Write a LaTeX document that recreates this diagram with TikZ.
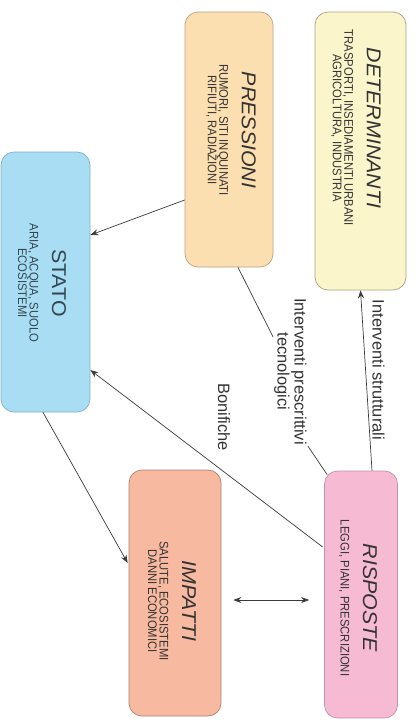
\documentclass[tikz,border=0pt]{standalone}
\usepackage{fontspec}
\setmainfont{Liberation Sans}
\setsansfont{Liberation Sans}
\newfontfamily\subfamily[FakeStretch=0.9]{Liberation Sans}
\newfontfamily\titlefamily[FakeStretch=1.07]{Liberation Sans}
\usetikzlibrary{positioning, arrows.meta, calc}

\definecolor{detfill}{HTML}{FBF5CB}
\definecolor{detdraw}{HTML}{A9A183}
\definecolor{presfill}{HTML}{FCDFB0}
\definecolor{presdraw}{HTML}{B9A283}
\definecolor{statofill}{HTML}{A9DDF4}
\definecolor{statodraw}{HTML}{7FAFC9}
\definecolor{impfill}{HTML}{F8B9A1}
\definecolor{impdraw}{HTML}{B3806E}
\definecolor{rispfill}{HTML}{F6BBD3}
\definecolor{rispdraw}{HTML}{BE93A9}
\definecolor{textgray}{HTML}{333333}
\definecolor{linegray}{HTML}{3A3A3A}

\newcommand{\titlefont}{\titlefamily\fontsize{20}{20}\selectfont}
\newcommand{\subfont}{\subfamily\fontsize{12.5}{11.5}\selectfont}
\newcommand{\lblfont}{\fontsize{16.5}{17}\selectfont}

\begin{document}
\begin{tikzpicture}[x=1pt, y=-1pt,
    box/.style={rectangle, rounded corners=13pt, line width=0.7pt, inner sep=0pt},
    boxtext/.style={rotate=-90, align=center, text=textgray, font=\subfont, inner sep=0pt},
    lbl/.style={rotate=-90, align=center, text=textgray, font=\lblfont, inner sep=1pt},
    arr/.style={-{Stealth[length=8pt, width=6pt]}, line width=0.7pt, draw=linegray},
    plain/.style={line width=0.7pt, draw=linegray}]
        \useasboundingbox (0,0) rectangle (419,723);

        % Boxes
        \node (det) [box, draw=detdraw, fill=detfill, minimum width=91pt, minimum height=278pt] at (360.5,151) {};
        \node (pres) [box, draw=presdraw, fill=presfill, minimum width=88pt, minimum height=255pt] at (229,139.5) {};
        \node (stato) [box, draw=statodraw, fill=statofill, minimum width=89pt, minimum height=260pt] at (45.5,282) {};
        \node (imp) [box, draw=impdraw, fill=impfill, minimum width=92pt, minimum height=246pt] at (175,593) {};
        \node (risp) [box, draw=rispdraw, fill=rispfill, minimum width=73pt, minimum height=247pt] at (361,594.5) {};

        % Box texts
        \node (dettext) [boxtext] at (356,128)
        {{\titlefont\itshape DETERMINANTI}\\[11pt]TRASPORTI, INSEDIAMENTI URBANI\\AGRICOLTURA, INDUSTRIA};
        \node (prestext) [boxtext] at (231,130)
        {{\titlefont\itshape PRESSIONI}\\[11pt]RUMORI, SITI INQUINATI\\RIFIUTI, RADIAZIONI};
        \node (statotext) [boxtext, text=statodraw!40!black] at (42,283)
        {{\titlefont STATO}\\[11pt]ARIA, ACQUA, SUOLO\\ECOSISTEMI};
        \node (imptext) [boxtext] at (172,601)
        {{\titlefont\itshape IMPATTI}\\[11pt]SALUTE, ECOSISTEMI\\DANNI ECONOMICI};
        \node (risptext) [boxtext] at (358,598)
        {{\titlefont\itshape RISPOSTE}\\[11pt]LEGGI, PIANI, PRESCRIZIONI};

        % Connector labels
        \node (lblstrut) [lbl] at (378.5,370) {Interventi strutturali};
        \node (lblpresc) [lbl] at (290.5,371.5) {Interventi prescrittivi\\tecnologici};
        \node (lblbonif) [lbl] at (224,417) {Bonifiche};

        % Connectors
        \draw[arr] ([xshift=11pt]risp.north) -- (det.south);
        \draw[arr] ([yshift=-60.5pt]pres.west) -- ([yshift=47pt]stato.east);
        \draw[plain] ([xshift=9pt]pres.south) -- (lblpresc);
        \draw[plain] ([xshift=3pt, yshift=-4pt]risp.north west) -- (lblpresc.north east);
        \draw[arr] ([xshift=-1.5pt, yshift=47.5pt]risp.west) -- ([yshift=-88pt]stato.east);
        \draw[arr] ([xshift=-2.5pt]stato.south) -- ([xshift=-1pt, yshift=30pt]imp.west);
        \draw[arr, {Stealth[length=8pt, width=6pt]}-{Stealth[length=8pt, width=6pt]}, shorten <=12pt, shorten >=15pt]
            ([yshift=-7pt]imp.east) -- ([yshift=-5.5pt]risp.west);
\end{tikzpicture}
\end{document}
